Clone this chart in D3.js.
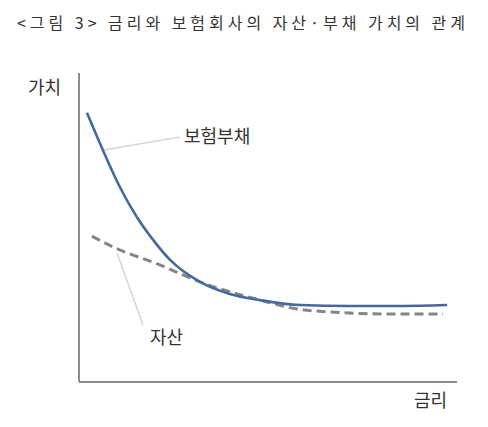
<!DOCTYPE html>
<html>
<head>
<meta charset="utf-8">
<script src="https://cdn.jsdelivr.net/npm/d3@7"></script>
<style>
  body { margin: 0; background: #fff; }
  text { font-family: "Noto Sans CJK KR", "Noto Sans", sans-serif; }
</style>
</head>
<body>
<svg width="488" height="427"></svg>
<script>
const title = '<그림 3> 금리와 보험회사의 자산·부채 가치의 관계';
const yLabel = '가치';
const xLabel = '금리';

// 금리 (x, 0-100) and 가치 (y, 0-100)
const liabRate  = [2.1, 6.3, 10.8, 15.3, 19.6, 24.1, 32.0, 39.9, 47.9, 58.5, 71.7, 84.9, 97.4];
const liabValue = [87.1, 75.1, 63.1, 53.4, 46.0, 39.5, 32.4, 28.5, 26.5, 24.9, 24.6, 24.6, 24.9];
const assetRate  = [3.4, 9.0, 21.4, 32.0, 47.9, 56.6, 65.6, 83.1, 96.3];
const assetValue = [47.2, 43.7, 37.9, 32.4, 26.5, 23.9, 22.7, 22.0, 22.0];

const svg = d3.select('svg');
const x = d3.scaleLinear().domain([0, 100]).range([79, 457]);
const y = d3.scaleLinear().domain([0, 100]).range([382, 73]);

svg.append('text')
  .attr('x', 17).attr('y', 29)
  .attr('font-size', 16)
  .attr('fill', '#333')
  .attr('textLength', 448)
  .attr('lengthAdjust', 'spacing')
  .text(title);

// axes
svg.append('line')
  .attr('x1', x(0)).attr('x2', x(0))
  .attr('y1', y(100)).attr('y2', y(0))
  .attr('stroke', '#8c8c8c').attr('stroke-width', 2);
svg.append('line')
  .attr('x1', x(0)).attr('x2', x(100))
  .attr('y1', y(0)).attr('y2', y(0))
  .attr('stroke', '#8c8c8c').attr('stroke-width', 2);

svg.append('text')
  .attr('x', 28).attr('y', 94)
  .attr('font-size', 18).attr('fill', '#333')
  .text(yLabel);
svg.append('text')
  .attr('x', 414).attr('y', 407)
  .attr('font-size', 18).attr('fill', '#333')
  .text(xLabel);

const line = d3.line()
  .x(d => x(d[0]))
  .y(d => y(d[1]))
  .curve(d3.curveMonotoneX);

// leader lines
svg.append('line')
  .attr('x1', x(liabRate[1]) + 1).attr('y1', y(liabValue[1]))
  .attr('x2', 180).attr('y2', 137)
  .attr('stroke', '#d6d6d6').attr('stroke-width', 1.5);
svg.append('line')
  .attr('x1', x(assetRate[1]) + 4).attr('y1', y(assetValue[1]) + 6)
  .attr('x2', 143).attr('y2', 325)
  .attr('stroke', '#d6d6d6').attr('stroke-width', 1.5);

svg.append('path')
  .datum(d3.zip(assetRate, assetValue))
  .attr('d', line)
  .attr('fill', 'none')
  .attr('stroke', '#858585')
  .attr('stroke-width', 3)
  .attr('stroke-dasharray', '9,5');

svg.append('path')
  .datum(d3.zip(liabRate, liabValue))
  .attr('d', line)
  .attr('fill', 'none')
  .attr('stroke', '#45699a')
  .attr('stroke-width', 2.6);

svg.append('text')
  .attr('x', 184).attr('y', 143)
  .attr('font-size', 18).attr('fill', '#333')
  .text('보험부채');
svg.append('text')
  .attr('x', 150).attr('y', 344)
  .attr('font-size', 18).attr('fill', '#333')
  .text('자산');
</script>
</body>
</html>
